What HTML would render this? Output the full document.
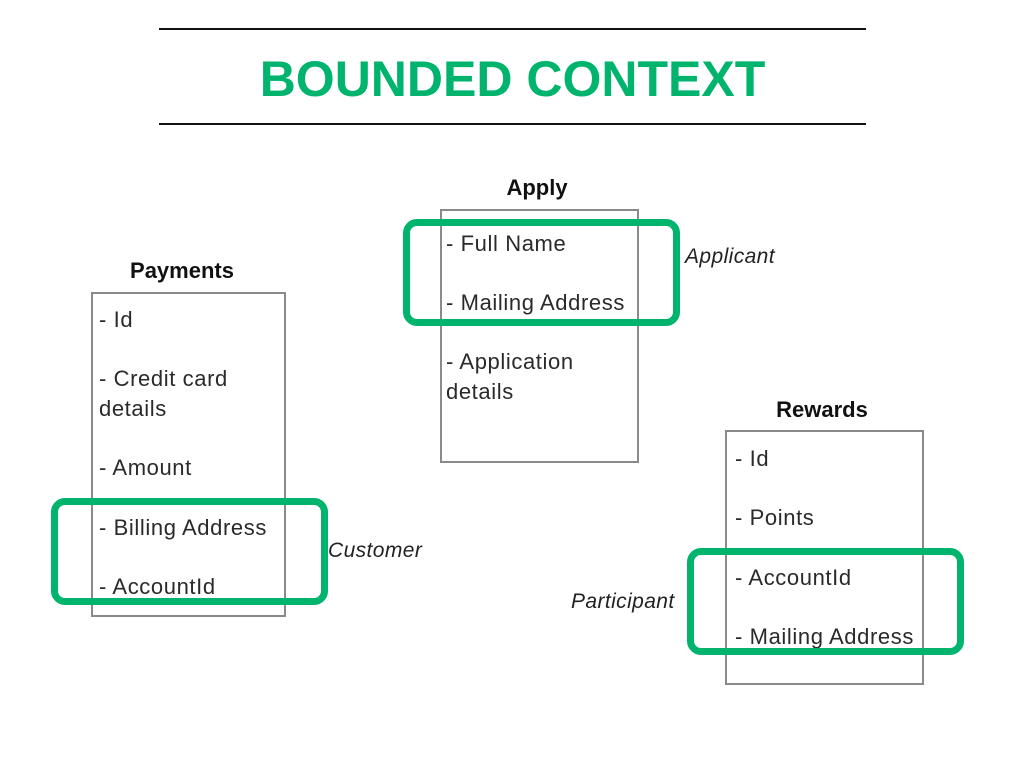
<!DOCTYPE html>
<html><head><meta charset="utf-8"><style>
body{margin:0;width:1024px;height:768px;background:#fff;position:relative;overflow:hidden;font-family:"Liberation Sans",sans-serif;color:#222}
.a{position:absolute;white-space:nowrap}
.t{font-size:22px;line-height:30px;letter-spacing:0.6px;color:#2a2a2a}
.h{font-size:22px;font-weight:bold;color:#111}
.i{font-size:21px;font-style:italic;letter-spacing:0.4px}
.box{position:absolute;border:2px solid #8a8a8a;box-sizing:border-box}
.g{position:absolute;border:7px solid #00b46e;border-radius:14px;box-sizing:border-box}
.line{position:absolute;height:2px;background:#111;left:159px;width:707px}
</style></head><body>
<div class="line" style="top:28px"></div>
<div class="line" style="top:123px"></div>
<div class="a" style="left:159px;width:707px;top:51px;text-align:center;font-size:50px;font-weight:bold;color:#00b46e;line-height:56px">BOUNDED CONTEXT</div>

<div class="box" style="left:91px;top:292px;width:195px;height:325px"></div>
<div class="a h" style="left:88px;width:188px;text-align:center;top:258px">Payments</div>
<div class="a t" style="left:99px;top:305px">- Id</div>
<div class="a t" style="left:99px;top:364px">- Credit card<br>details</div>
<div class="a t" style="left:99px;top:453px">- Amount</div>
<div class="a t" style="left:99px;top:513px">- Billing Address</div>
<div class="a t" style="left:99px;top:572px">- AccountId</div>
<div class="g" style="left:51px;top:498px;width:277px;height:107px"></div>
<div class="a i" style="left:328px;top:539px">Customer</div>

<div class="box" style="left:440px;top:209px;width:199px;height:254px"></div>
<div class="a h" style="left:440px;width:194px;text-align:center;top:175px">Apply</div>
<div class="a t" style="left:446px;top:229px">- Full Name</div>
<div class="a t" style="left:446px;top:288px">- Mailing Address</div>
<div class="a t" style="left:446px;top:347px">- Application<br>details</div>
<div class="g" style="left:403px;top:219px;width:277px;height:107px"></div>
<div class="a i" style="left:685px;top:245px">Applicant</div>

<div class="box" style="left:725px;top:430px;width:199px;height:255px"></div>
<div class="a h" style="left:725px;width:194px;text-align:center;top:397px">Rewards</div>
<div class="a t" style="left:735px;top:444px">- Id</div>
<div class="a t" style="left:735px;top:503px">- Points</div>
<div class="a t" style="left:735px;top:563px">- AccountId</div>
<div class="a t" style="left:735px;top:622px">- Mailing Address</div>
<div class="g" style="left:687px;top:548px;width:277px;height:107px"></div>
<div class="a i" style="left:571px;top:590px">Participant</div>
</body></html>
